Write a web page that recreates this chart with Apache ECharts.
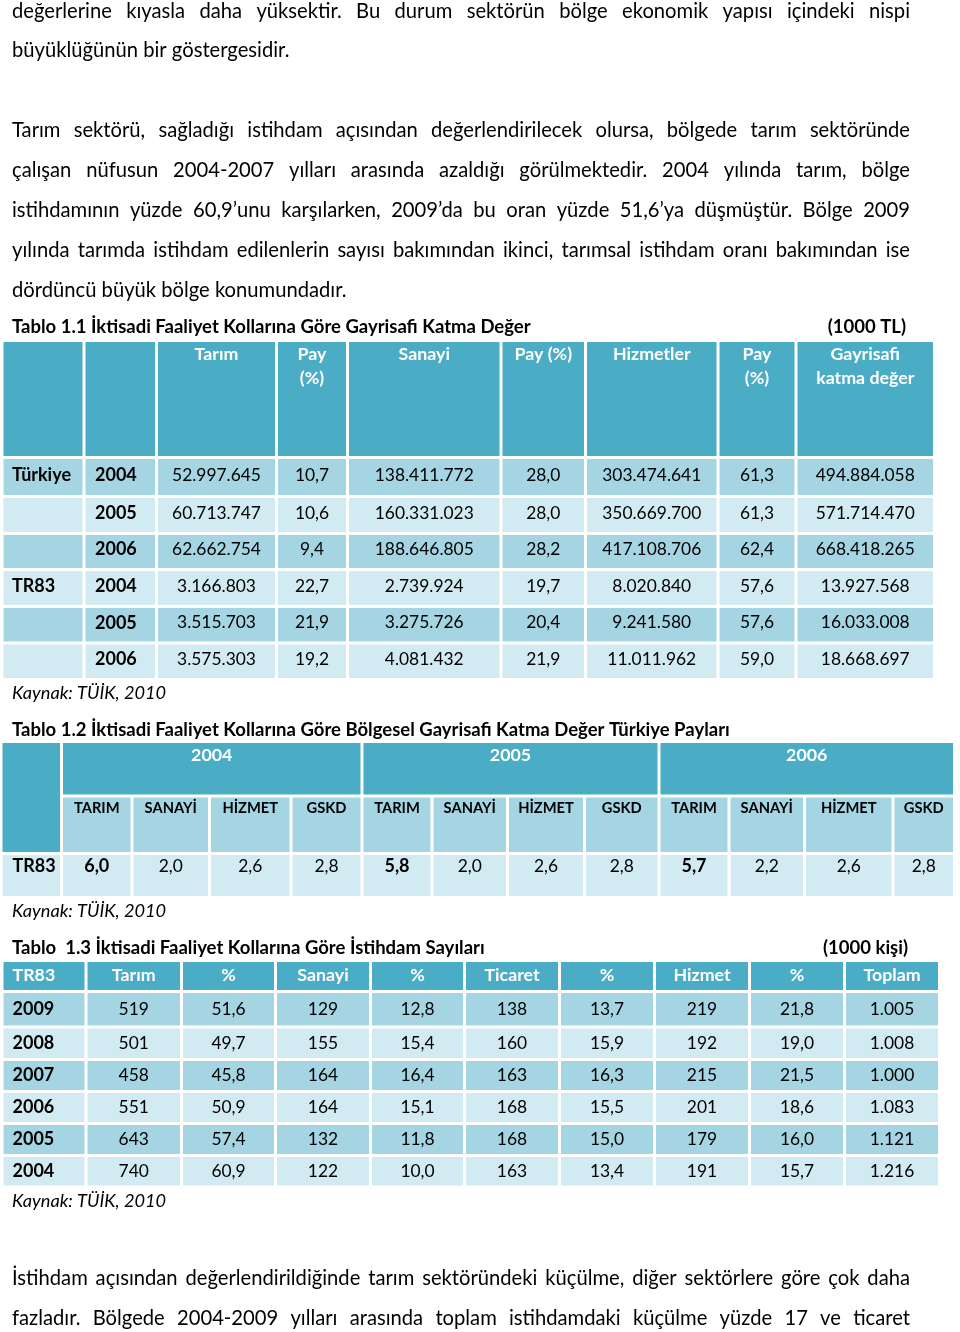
<!DOCTYPE html>
<html><head><meta charset="utf-8">
<script src="https://cdn.jsdelivr.net/npm/echarts@6/dist/echarts.min.js"></script>
<style>html,body{margin:0;padding:0;background:#fff}#c{width:960px;height:1332px}</style>
</head><body><div id="c"></div>
<script>
// ---------------- DATA ----------------
// Tablo 1.1 (1000 TL)
const t11Header = ['', '', 'Tarım', 'Pay\n(%)', 'Sanayi', 'Pay (%)', 'Hizmetler', 'Pay\n(%)', 'Gayrisafi\nkatma değer'];
const t11Regions = ['Türkiye', '', '', 'TR83', '', ''];
const t11Years = ['2004', '2005', '2006', '2004', '2005', '2006'];
const t11Tarim = [52997645, 60713747, 62662754, 3166803, 3515703, 3575303];
const t11TarimPay = [10.7, 10.6, 9.4, 22.7, 21.9, 19.2];
const t11Sanayi = [138411772, 160331023, 188646805, 2739924, 3275726, 4081432];
const t11SanayiPay = [28.0, 28.0, 28.2, 19.7, 20.4, 21.9];
const t11Hizmet = [303474641, 350669700, 417108706, 8020840, 9241580, 11011962];
const t11HizmetPay = [61.3, 61.3, 62.4, 57.6, 57.6, 59.0];
const t11Gskd = [494884058, 571714470, 668418265, 13927568, 16033008, 18668697];

// Tablo 1.2
const t12Years = ['2004', '2005', '2006'];
const t12Sectors = ['TARIM', 'SANAYİ', 'HİZMET', 'GSKD'];
const t12Region = 'TR83';
const t12Share2004 = [6.0, 2.0, 2.6, 2.8];
const t12Share2005 = [5.8, 2.0, 2.6, 2.8];
const t12Share2006 = [5.7, 2.2, 2.6, 2.8];

// Tablo 1.3 (1000 kişi)
const t13Header = ['TR83', 'Tarım', '%', 'Sanayi', '%', 'Ticaret', '%', 'Hizmet', '%', 'Toplam'];
const t13Years = ['2009', '2008', '2007', '2006', '2005', '2004'];
const t13Tarim = [519, 501, 458, 551, 643, 740];
const t13TarimPct = [51.6, 49.7, 45.8, 50.9, 57.4, 60.9];
const t13Sanayi = [129, 155, 164, 164, 132, 122];
const t13SanayiPct = [12.8, 15.4, 16.4, 15.1, 11.8, 10.0];
const t13Ticaret = [138, 160, 163, 168, 168, 163];
const t13TicaretPct = [13.7, 15.9, 16.3, 15.5, 15.0, 13.4];
const t13Hizmet = [219, 192, 215, 201, 179, 191];
const t13HizmetPct = [21.8, 19.0, 21.5, 18.6, 16.0, 15.7];
const t13Toplam = [1005, 1008, 1000, 1083, 1121, 1216];

// Texts
const paraTop = [
  ['değerlerine kıyasla daha yüksektir. Bu durum sektörün bölge ekonomik yapısı içindeki nispi', true],
  ['büyüklüğünün bir göstergesidir.', false],
  ['Tarım sektörü, sağladığı istihdam açısından değerlendirilecek olursa, bölgede tarım sektöründe', true],
  ['çalışan nüfusun 2004-2007 yılları arasında azaldığı görülmektedir. 2004 yılında tarım, bölge', true],
  ['istihdamının yüzde 60,9’unu karşılarken, 2009’da bu oran yüzde 51,6’ya düşmüştür. Bölge 2009', true],
  ['yılında tarımda istihdam edilenlerin sayısı bakımından ikinci, tarımsal istihdam oranı bakımından ise', true],
  ['dördüncü büyük bölge konumundadır.', false]
];
const paraBottom = [
  ['İstihdam açısından değerlendirildiğinde tarım sektöründeki küçülme, diğer sektörlere göre çok daha', true],
  ['fazladır. Bölgede 2004-2009 yılları arasında toplam istihdamdaki küçülme yüzde 17 ve ticaret', true]
];
const title11 = 'Tablo 1.1 İktisadi Faaliyet Kollarına Göre Gayrisafi Katma Değer';
const unit11 = '(1000 TL)';
const title12 = 'Tablo 1.2 İktisadi Faaliyet Kollarına Göre Bölgesel Gayrisafi Katma Değer Türkiye Payları';
const title13 = 'Tablo  1.3 İktisadi Faaliyet Kollarına Göre İstihdam Sayıları';
const unit13 = '(1000 kişi)';
const sourceText = 'Kaynak: TÜİK, 2010';

// ---------------- LAYOUT ----------------
const PAGE_W = 960, PAGE_H = 1332;
const TEXT_L = 12, TEXT_R = 910;
const paraTopY = [11, 50, 130, 170, 210, 250, 290];
const paraBottomY = [1278, 1318];
const t11ColEdges = [2, 84, 156.5, 276.5, 347.5, 501, 585.5, 718, 796, 934.5];
const t11RowEdges = [340.5, 457.5, 496.5, 533.5, 569.5, 606.5, 643, 679.5];
const t12ColEdges = [1, 61.5, 132, 209.5, 291, 362, 432, 507.5, 584.5, 659, 729, 804.5, 893, 954.5];
const t12RowEdges = [741.5, 796, 853.5, 897.5];
const t13ColEdges = [2, 86, 181.5, 275.5, 370.5, 464.5, 559.5, 654.5, 749.5, 844.5, 939.5];
const t13RowEdges = [960.5, 991.5, 1027, 1059.5, 1091.5, 1123.5, 1155.5, 1187];
const GAP = 3;
const C_HEAD = '#4BACC6', C_DARK = '#A5D5E2', C_LIGHT = '#D2EAF1';
const C_TEXT = '#000000', C_WHITE = '#FFFFFF';

// ---------------- FONTS ----------------
const FONT = 'Lato';
const mctx = document.createElement('canvas').getContext('2d');
function fontStr(size, weight, style) { return (style || 'normal') + ' ' + (weight || 'normal') + ' ' + size + 'px ' + FONT; }
function measure(text, size, weight, style) { mctx.font = fontStr(size, weight, style); return mctx.measureText(text).width; }
function fit(text, weight, style, target) { return Math.round(1000 * target / measure(text, 100, weight, style)) / 10; }

const fsBody = fit('büyüklüğünün bir göstergesidir.', 'normal', 'normal', 278);
const fsTitle = fit(title11, 'bold', 'normal', 518);
const fsSrc = fit(sourceText, 'normal', 'italic', 154);
const fsCell = fit('52.997.645', 'normal', 'normal', 89);
const fsCellB = fit('Türkiye', 'bold', 'normal', 59);
const fsHead = fit('Hizmetler', 'bold', 'normal', 78);
const fsSub = fit('TARIMSANAYİHİZMETGSKD', 'bold', 'normal', 193);

const fBody = fontStr(fsBody), fTitle = fontStr(fsTitle, 'bold'), fSrc = fontStr(fsSrc, 'normal', 'italic');
const fCell = fontStr(fsCell), fCellB = fontStr(fsCellB, 'bold'), fHead = fontStr(fsHead, 'bold');
const fSub = fontStr(fsSub, 'bold');

// ---------------- FORMAT ----------------
function fmtInt(n) { return String(n).replace(/\B(?=(\d{3})+(?!\d))/g, '.'); }
function fmtDec(n) { return n.toFixed(1).replace('.', ','); }

// ---------------- GRAPHIC TEXT ----------------
const graphics = [];
function addText(text, x, y, font, align) {
  graphics.push({ type: 'text', x: x, y: y, silent: true,
    style: { text: text, font: font, fill: C_TEXT, textAlign: align || 'left', align: align || 'left',
      textVerticalAlign: 'middle', verticalAlign: 'middle' } });
}
function addLine(text, justify, y) {
  if (!justify) { addText(text, TEXT_L, y, fBody); return; }
  const words = text.split(' ');
  const widths = words.map(w => measure(w, fsBody));
  const total = widths.reduce((a, b) => a + b, 0);
  const gap = (TEXT_R - TEXT_L - total) / (words.length - 1);
  let x = TEXT_L;
  words.forEach((w, i) => { addText(w, x, y, fBody); x += widths[i] + gap; });
}
paraTop.forEach((l, i) => addLine(l[0], l[1], paraTopY[i]));
paraBottom.forEach((l, i) => addLine(l[0], l[1], paraBottomY[i]));
addText(title11, TEXT_L, 327, fTitle);
addText(unit11, 906, 327, fTitle, 'right');
addText(sourceText, TEXT_L, 693, fSrc);
addText(title12, TEXT_L, 730, fTitle);
addText(sourceText, TEXT_L, 911, fSrc);
addText(title13, TEXT_L, 948, fTitle);
addText(unit13, 908, 948, fTitle, 'right');
addText(sourceText, TEXT_L, 1201, fSrc);

// ---------------- TABLE CELLS ----------------
const cells = [];
function addCell(cols, rows, c0, c1, r0, r1, fill, texts) {
  cells.push({ x0: cols[c0], x1: cols[c1], y0: rows[r0], y1: rows[r1], fill: fill, texts: texts || [] });
}
function tx(text, font, color, align, opts) {
  return Object.assign({ text: text, font: font, color: color, align: align, pad: 9, top: null, lh: 24, dy: 0 }, opts || {});
}

// Tablo 1.1
t11Header.forEach((h, c) => {
  addCell(t11ColEdges, t11RowEdges, c, c + 1, 0, 1, C_HEAD,
    h ? [tx(h, fHead, C_WHITE, 'center', { top: 12, lh: 24 })] : []);
});
t11Years.forEach((y, r) => {
  const fill = r % 2 === 0 ? C_DARK : C_LIGHT;
  const vals = [fmtInt(t11Tarim[r]), fmtDec(t11TarimPay[r]), fmtInt(t11Sanayi[r]), fmtDec(t11SanayiPay[r]),
    fmtInt(t11Hizmet[r]), fmtDec(t11HizmetPay[r]), fmtInt(t11Gskd[r])];
  addCell(t11ColEdges, t11RowEdges, 0, 1, r + 1, r + 2, fill,
    t11Regions[r] ? [tx(t11Regions[r], fCellB, C_TEXT, 'left', { pad: 8.5, dy: -2 })] : []);
  addCell(t11ColEdges, t11RowEdges, 1, 2, r + 1, r + 2, fill, [tx(y, fCellB, C_TEXT, 'left', { pad: 9.5, dy: -2 })]);
  vals.forEach((v, i) => addCell(t11ColEdges, t11RowEdges, i + 2, i + 3, r + 1, r + 2, fill, [tx(v, fCell, C_TEXT, 'center', { dy: -2 })]));
});

// Tablo 1.2
addCell(t12ColEdges, t12RowEdges, 0, 1, 0, 2, C_HEAD, []);
const t12Shares = [t12Share2004, t12Share2005, t12Share2006];
t12Years.forEach((y, g) => {
  const c0 = 1 + g * t12Sectors.length;
  addCell(t12ColEdges, t12RowEdges, c0, c0 + t12Sectors.length, 0, 1, C_HEAD,
    [tx(y, fHead, C_WHITE, 'center', { top: 12 })]);
  t12Sectors.forEach((s, i) => {
    addCell(t12ColEdges, t12RowEdges, c0 + i, c0 + i + 1, 1, 2, C_DARK,
      [tx(s, fSub, C_TEXT, 'center', { top: 11, lh: 22 })]);
    addCell(t12ColEdges, t12RowEdges, c0 + i, c0 + i + 1, 2, 3, C_LIGHT,
      [tx(fmtDec(t12Shares[g][i]), i === 0 ? fCellB : fCell, C_TEXT, 'center', { top: 11 })]);
  });
});
addCell(t12ColEdges, t12RowEdges, 0, 1, 2, 3, C_LIGHT, [tx(t12Region, fCellB, C_TEXT, 'left', { top: 11, pad: 10 })]);

// Tablo 1.3
t13Header.forEach((h, c) => {
  addCell(t13ColEdges, t13RowEdges, c, c + 1, 0, 1, C_HEAD,
    [tx(h, fHead, C_WHITE, c === 0 ? 'left' : 'center', { pad: 9, dy: -1 })]);
});
t13Years.forEach((y, r) => {
  const fill = r % 2 === 0 ? C_DARK : C_LIGHT;
  const vals = [String(t13Tarim[r]), fmtDec(t13TarimPct[r]), String(t13Sanayi[r]), fmtDec(t13SanayiPct[r]),
    String(t13Ticaret[r]), fmtDec(t13TicaretPct[r]), String(t13Hizmet[r]), fmtDec(t13HizmetPct[r]), fmtInt(t13Toplam[r])];
  addCell(t13ColEdges, t13RowEdges, 0, 1, r + 1, r + 2, fill, [tx(y, fCellB, C_TEXT, 'left', { pad: 9 })]);
  vals.forEach((v, i) => addCell(t13ColEdges, t13RowEdges, i + 1, i + 2, r + 1, r + 2, fill, [tx(v, fCell, C_TEXT, 'center')]));
});

function renderCell(params, api) {
  const c = cells[params.dataIndex];
  const p0 = api.coord([c.x0, c.y0]);
  const p1 = api.coord([c.x1, c.y1]);
  const g = GAP / 2;
  const x = Math.min(p0[0], p1[0]) + g, y = Math.min(p0[1], p1[1]) + g;
  const w = Math.abs(p1[0] - p0[0]) - GAP, h = Math.abs(p1[1] - p0[1]) - GAP;
  const children = [{ type: 'rect', shape: { x: x, y: y, width: w, height: h }, style: { fill: c.fill } }];
  c.texts.forEach(t => {
    const tX = t.align === 'left' ? x + t.pad : x + w / 2;
    let tY, va;
    if (t.top != null) { tY = y + t.top - t.lh / 2; va = 'top'; } else { tY = y + h / 2 + t.dy; va = 'middle'; }
    children.push({ type: 'text', x: tX, y: tY,
      style: { text: t.text, font: t.font, fill: t.color, textAlign: t.align, align: t.align,
        textVerticalAlign: va, verticalAlign: va, lineHeight: t.lh } });
  });
  return { type: 'group', children: children };
}

const chart = echarts.init(document.getElementById('c'), null, { renderer: 'canvas' });
chart.setOption({
  animation: false,
  backgroundColor: '#ffffff',
  grid: { left: 0, top: 0, width: PAGE_W, height: PAGE_H },
  xAxis: { type: 'value', min: 0, max: PAGE_W, show: false },
  yAxis: { type: 'value', min: 0, max: PAGE_H, inverse: true, show: false },
  graphic: graphics,
  series: [{
    type: 'custom',
    coordinateSystem: 'cartesian2d',
    silent: true,
    clip: false,
    renderItem: renderCell,
    encode: { x: [0, 1], y: [2, 3] },
    data: cells.map(c => [c.x0, c.x1, c.y0, c.y1])
  }]
});
</script></body></html>
